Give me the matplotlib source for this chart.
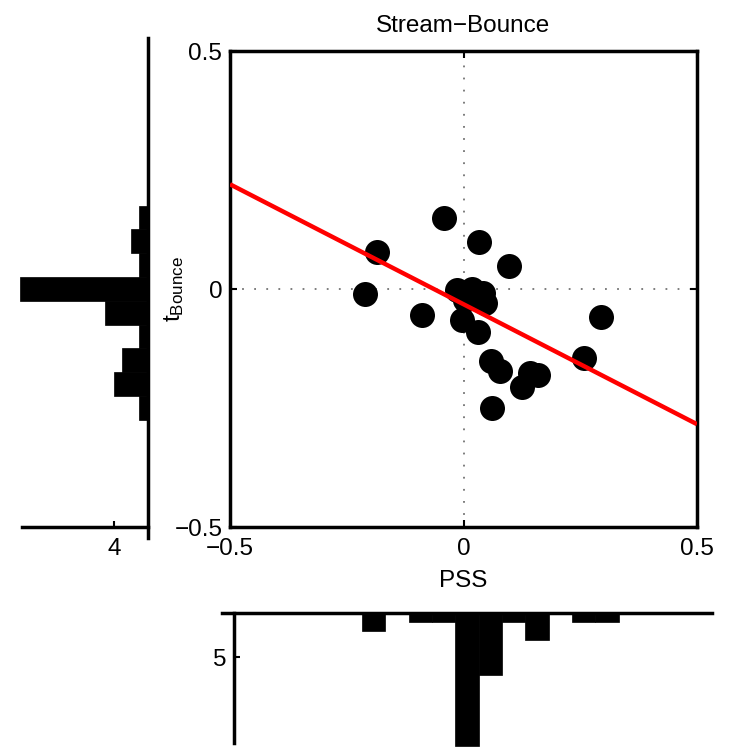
import numpy as np
import matplotlib.pyplot as plt

plt.rcParams['font.family'] = ['Liberation Sans', 'DejaVu Sans']
plt.rcParams['mathtext.fontset'] = 'custom'
plt.rcParams['mathtext.rm'] = 'Liberation Sans'

# scatter data (PSS vs t_Bounce)
pss = [-0.041, 0.034, 0.098, -0.185, -0.211, -0.088, -0.013, 0.018, 0.042, 0.045,
       0.003, -0.004, 0.032, 0.294, 0.258, 0.059, 0.078, 0.142, 0.160, 0.125, 0.060]
t_bounce = [0.149, 0.098, 0.048, 0.078, -0.011, -0.055, -0.002, 0.000, -0.009, -0.030,
            -0.023, -0.065, -0.090, -0.058, -0.144, -0.151, -0.172, -0.177, -0.181, -0.205, -0.251]

# regression line end points
fit_x = [-0.5, 0.5]
fit_y = [0.220, -0.284]

# marginal histogram of t_Bounce (left)
t_bins = [0.15, 0.10, 0.05, 0.0, -0.05, -0.10, -0.15, -0.20, -0.25]
t_counts = [1, 2, 1, 15, 5, 1, 3, 4, 1]

# marginal histogram of PSS (bottom)
pss_bins = [-0.20, -0.15, -0.10, -0.05, 0.0, 0.05, 0.10, 0.15, 0.20, 0.25, 0.30]
pss_counts = [2, 0, 1, 1, 15, 7, 1, 3, 0, 1, 1]

fs = 17.5
lw = 2.5
W, H = 731, 748

fig = plt.figure(figsize=(W / 100, H / 100), dpi=100)

# main scatter axes
ax = fig.add_axes([230 / W, 1 - 527 / H, 467 / W, 476 / H])
ax.axhline(0, color='0.45', lw=1.3, dashes=(1, 5.7), zorder=1)
ax.axvline(0, color='0.45', lw=1.3, dashes=(1, 5.7), zorder=1)
ax.scatter(pss, t_bounce, s=18 ** 2, color='k', linewidths=0, zorder=3)
ax.plot(fit_x, fit_y, color='red', lw=3.2, zorder=4, solid_capstyle='butt')
ax.set_xlim(-0.5, 0.5)
ax.set_ylim(-0.5, 0.5)
ax.set_xticks([-0.5, 0, 0.5])
ax.set_xticklabels(['\u22120.5', '0', '0.5'])
ax.set_yticks([-0.5, 0, 0.5])
ax.set_yticklabels(['\u22120.5', '0', '0.5'])
ax.tick_params(direction='in', length=5, width=1.5, top=True, right=True, labelsize=fs)
ax.tick_params(axis='x', pad=8)
ax.tick_params(axis='y', pad=5.5)
for s in ax.spines.values():
    s.set_linewidth(lw)
ax.set_title('Stream\u2212Bounce', fontsize=fs, pad=14)
ax.set_xlabel('PSS', fontsize=fs, labelpad=7)
ax.set_ylabel(r'$\mathrm{t_{Bounce}}$', fontsize=fs)
ax.yaxis.set_label_coords(-0.095, 0.5)

# left histogram
axl = fig.add_axes([22 / W, 1 - 538 / H, 126 / W, 500 / H])
axl.barh(t_bins, t_counts, height=0.05, color='k', edgecolor='k', lw=0.5, clip_on=False)
axl.set_xlim(14.8, 0)
axl.set_ylim(-0.523, 0.527)
axl.spines['top'].set_visible(False)
axl.spines['left'].set_visible(False)
axl.spines['right'].set_linewidth(lw)
axl.spines['bottom'].set_linewidth(lw)
axl.spines['bottom'].set_position(('data', -0.5))
axl.set_yticks([])
axl.set_xticks([4])
axl.tick_params(axis='x', direction='in', length=4, width=1.5, labelsize=fs, pad=8)
axl.patch.set_visible(False)

# bottom histogram
axb = fig.add_axes([222 / W, 1 - 743 / H, 490 / W, 130 / H])
axb.bar(pss_bins, pss_counts, width=0.05, color='k', edgecolor='k', lw=0.5, clip_on=False)
axb.set_xlim(-0.525, 0.525)
axb.set_ylim(14.7, 0)
axb.spines['right'].set_visible(False)
axb.spines['bottom'].set_visible(False)
axb.spines['top'].set_linewidth(lw)
axb.spines['left'].set_linewidth(lw)
axb.spines['left'].set_position(('data', -0.5))
axb.set_xticks([])
axb.set_yticks([5])
axb.tick_params(axis='y', direction='in', length=4, width=1.5, labelsize=fs, pad=5.5)
axb.patch.set_visible(False)

fig.savefig('out.png', dpi=100)
